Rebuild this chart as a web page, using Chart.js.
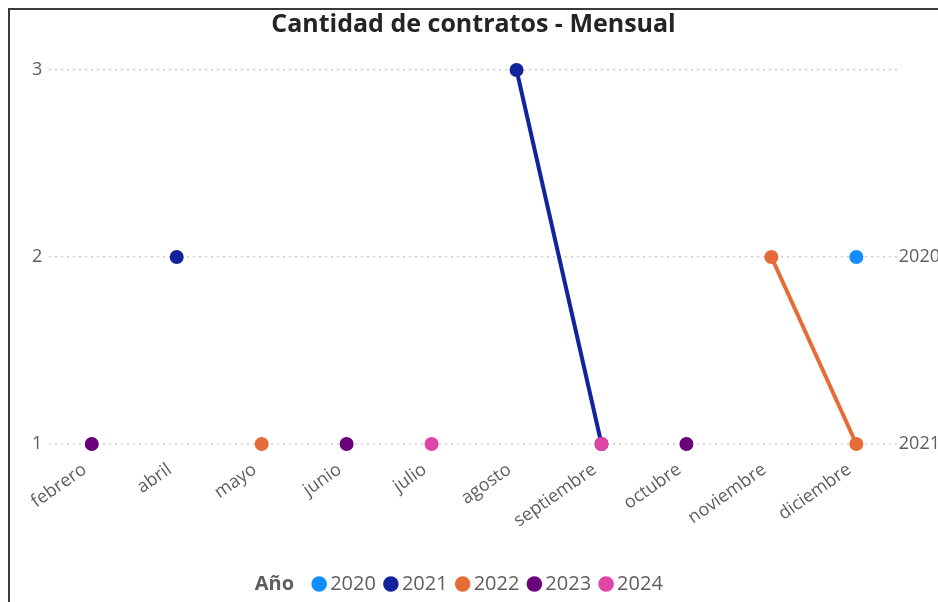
<!DOCTYPE html>
<html>
<head>
<meta charset="utf-8">
<script src="https://cdn.jsdelivr.net/npm/chart.js@4.4.1/dist/chart.umd.min.js"></script>
<style>
  html, body { margin: 0; padding: 0; background: #fff; overflow: hidden; }
  #frame { position: absolute; left: 8px; top: 8px; width: 960px; height: 620px; border-left: 2px solid #3a3a3a; border-top: 2px solid #3a3a3a; }
  #wrap { position: absolute; left: 10px; top: 10px; width: 937px; height: 594px; }
</style>
</head>
<body>
<div id="frame"></div>
<div id="wrap"><canvas id="chart"></canvas></div>
<script>
// months on the x axis
const months = ['febrero','abril','mayo','junio','julio','agosto','septiembre','octubre','noviembre','diciembre']
const years = ['2020','2021','2022','2023','2024']
const colors = ['#118DFF','#12239E','#E66C37','#6B007B','#E044A7']

// contracts per month, one list per year (null = no point)
const values2020 = [null,null,null,null,null,null,null,null,null,2]
const values2021 = [null,2,null,null,null,3,1,null,null,null]
const values2022 = [null,null,1,null,null,null,null,null,2,1]
const values2023 = [1,null,null,1,null,null,null,1,null,null]
const values2024 = [null,null,null,null,1,null,1,null,null,null]

// labels on the right axis, for values 1, 2, 3
const rightTickLabels = ['2021','2020','']

const allValues = [values2020, values2021, values2022, values2023, values2024]
const grey = '#605E5C'
const font = 'Open Sans'

const datasets = years.map((yr, i) => ({
    label: yr,
    data: allValues[i],
    borderColor: colors[i],
    backgroundColor: colors[i],
    pointBackgroundColor: colors[i],
    pointBorderWidth: 0,
    pointRadius: 7,
    pointHoverRadius: 7,
    borderWidth: 4,
    clip: false,
    order: 5 - i
}))

// "Año" in front of the legend, small nudges of legend and title
const legendTitle = {
    id: 'legendTitle',
    afterLayout(chart) {
        chart.legend.left += 8
        chart.legend.right += 8
        chart.titleBlock.left -= 9
        chart.titleBlock.right -= 9
    },
    afterDraw(chart) {
        const box = chart.legend.legendHitBoxes[0]
        if (!box) return
        const ctx = chart.ctx
        ctx.save()
        ctx.font = 'bold 20px "' + font + '"'
        ctx.fillStyle = grey
        ctx.textAlign = 'right'
        ctx.textBaseline = 'middle'
        ctx.fillText('Año', box.left - 24, box.top + box.height / 2)
        ctx.restore()
    }
}

const ctx = document.getElementById('chart').getContext('2d')
new Chart(ctx, {
    type: 'line',
    data: { labels: months, datasets: datasets },
    plugins: [legendTitle],
    options: {
        responsive: true,
        maintainAspectRatio: false,
        animation: false,
        layout: { padding: { left: 15, right: 7, top: 0, bottom: 0 } },
        scales: {
            x: {
                offset: true,
                grid: { display: false },
                border: { display: false },
                ticks: {
                    color: grey,
                    font: { family: font, size: 18 },
                    autoSkip: false,
                    minRotation: 35,
                    maxRotation: 35,
                    padding: 7,
                    labelOffset: -7
                },
                afterFit: function(scale) { scale.height = 116 }
            },
            y: {
                min: 1,
                max: 3,
                border: { display: false, dash: [2, 4] },
                grid: { color: '#CFCDCB', drawTicks: false, lineWidth: 1.5 },
                ticks: {
                    stepSize: 1,
                    padding: 7,
                    color: grey,
                    font: { family: font, size: 18 }
                }
            },
            y2: {
                position: 'right',
                min: 1,
                max: 3,
                border: { display: false },
                grid: { display: false, drawTicks: false },
                ticks: {
                    stepSize: 1,
                    padding: 0,
                    color: grey,
                    font: { family: font, size: 18 },
                    callback: function(value) { return rightTickLabels[value - 1] }
                }
            }
        },
        plugins: {
            title: {
                display: true,
                text: 'Cantidad de contratos - Mensual',
                color: '#252423',
                font: { family: font, size: 25, weight: 'bold' },
                padding: { top: 0, bottom: 30 }
            },
            legend: {
                position: 'bottom',
                labels: {
                    usePointStyle: true,
                    pointStyle: 'circle',
                    boxWidth: 2,
                    boxHeight: 11,
                    padding: 14,
                    color: grey,
                    font: { family: font, size: 20 },
                    sort: function(a, b) { return a.datasetIndex - b.datasetIndex }
                }
            },
            tooltip: { enabled: false }
        }
    }
})
</script>
</body>
</html>
